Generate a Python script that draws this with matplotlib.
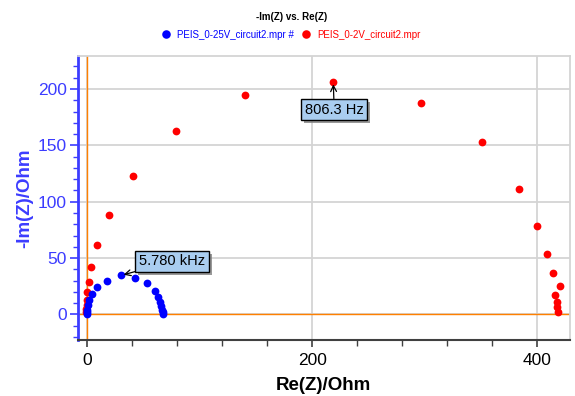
import matplotlib
matplotlib.use('Agg')
import matplotlib.pyplot as plt
from matplotlib.ticker import MultipleLocator
import matplotlib.patheffects as pe

plt.rcParams['font.family'] = ['Liberation Sans', 'DejaVu Sans']

# PEIS_0-25V_circuit2.mpr  (blue)
blue_re = [-0.6, -0.6, -0.2, 0.3, 1.8, 3.9, 8.3, 17.2, 29.8, 42.7, 53.0, 59.9, 63.1, 64.6, 65.5, 66.4, 66.8, 67.0]
blue_im = [0.6, 2.5, 4.2, 8.0, 12.5, 17.9, 24.4, 29.5, 34.6, 32.7, 28.0, 21.1, 15.5, 11.0, 7.1, 3.6, 1.8, 0.5]

# PEIS_0-2V_circuit2.mpr  (red)
red_re = [-0.9, -0.9, -0.6, -0.4, -0.2, 1.6, 3.1, 8.7, 19.1, 40.5, 78.7, 140.1, 218.6,
          296.8, 351.1, 383.7, 399.7, 408.8, 413.8, 420.4, 415.7, 417.2, 417.2, 418.1]
red_im = [2.0, 4.7, 8.3, 12.7, 19.8, 28.7, 42.3, 61.5, 88.2, 122.8, 162.8, 194.8, 206.6,
          187.9, 152.8, 111.3, 78.7, 53.8, 36.4, 25.4, 17.1, 11.2, 6.2, 2.3]

labels = ['PEIS_0-25V_circuit2.mpr #', 'PEIS_0-2V_circuit2.mpr']
annot_blue = (29.8, 34.6, '5.780 kHz')
annot_red = (218.6, 206.6, '806.3 Hz')

AXIS_BLUE = '#3c3cff'
ORANGE = '#ff8000'
GRID = '#d4d4d4'

fig = plt.figure(figsize=(5.75, 3.96), dpi=100)
ax = fig.add_axes([0.135, 0.141, 0.856, 0.718])

ax.axhline(0, color=ORANGE, lw=1.0, zorder=2)
ax.axvline(0, color=ORANGE, lw=1.0, zorder=2)

ax.plot(blue_re, blue_im, 'o', color='#0000ff', ms=5.6, mec='none', label=labels[0], zorder=4)
ax.plot(red_re, red_im, 'o', color='#ff0000', ms=5.6, mec='none', label=labels[1], zorder=3)

ax.set_xlim(-8.7, 429)
ax.set_ylim(-22.8, 229.4)

ax.xaxis.set_major_locator(MultipleLocator(200))
ax.xaxis.set_minor_locator(MultipleLocator(40))
ax.yaxis.set_major_locator(MultipleLocator(50))
ax.yaxis.set_minor_locator(MultipleLocator(10))

ax.grid(True, which='major', color=GRID, lw=1.3, zorder=0)
ax.set_axisbelow(True)

for s in ['top', 'right']:
    ax.spines[s].set_color(GRID)
    ax.spines[s].set_linewidth(1.3)
ax.spines['left'].set_color(AXIS_BLUE)
ax.spines['left'].set_linewidth(2.0)
ax.spines['bottom'].set_color('#404040')
ax.spines['bottom'].set_linewidth(1.5)

ax.tick_params(axis='y', which='major', colors=AXIS_BLUE, labelcolor=AXIS_BLUE,
               length=6, width=1.2, labelsize=12.5, pad=2)
ax.tick_params(axis='y', which='minor', colors=AXIS_BLUE, length=3.5, width=1.0)
ax.tick_params(axis='x', which='major', colors='#404040', labelcolor='black',
               length=5, width=1.2, labelsize=12.5, pad=4)
ax.tick_params(axis='x', which='minor', colors='#404040', length=4, width=1.0)

ax.set_xlabel('Re(Z)/Ohm', fontsize=13.5, fontweight='bold', labelpad=7)
ax.set_ylabel('-Im(Z)/Ohm', fontsize=13.5, fontweight='bold', color=AXIS_BLUE, labelpad=3)

fig.text(0.508, 0.958, '-Im(Z) vs. Re(Z)', ha='center', va='center', fontsize=7, fontweight='bold')
fig.legend(loc='center', bbox_to_anchor=(0.505, 0.912), ncol=2, frameon=False,
           fontsize=7, labelcolor='linecolor', handletextpad=0.6, columnspacing=0.6,
           markerscale=1.1, handlelength=1.2)

box = dict(boxstyle='square,pad=0.25', fc='#a9cdf0', ec='black', lw=1.0,
           path_effects=[pe.SimplePatchShadow(offset=(2, -2), shadow_rgbFace='#808080', alpha=0.8),
                         pe.Normal()])
ax.annotate(annot_blue[2], xy=(annot_blue[0], annot_blue[1]), xytext=(46, 47),
            fontsize=10.5, bbox=box, va='center', ha='left',
            arrowprops=dict(arrowstyle='->', color='black', lw=0.9, shrinkA=0, shrinkB=2), zorder=6)
ax.annotate(annot_red[2], xy=(annot_red[0], annot_red[1]), xytext=(219.5, 181.5),
            fontsize=10.5, bbox=box, va='center', ha='center',
            arrowprops=dict(arrowstyle='->', color='black', lw=0.9, shrinkA=0, shrinkB=2), zorder=6)

fig.savefig('out.png', dpi=100)
